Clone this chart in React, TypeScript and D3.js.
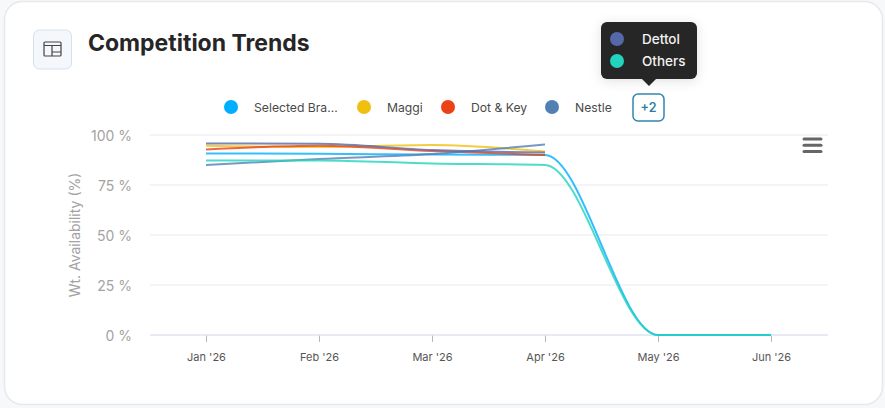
import * as d3 from "d3";
import { useEffect, useRef } from "react";

const months = ["Jan '26", "Feb '26", "Mar '26", "Apr '26", "May '26", "Jun '26"];
const yTicks = [0, 25, 50, 75, 100];

const selectedBrand = [90.8, 90.6, 90.2, 90, 0, 0];
const maggi = [94.6, 94, 95, 91.7];
const dotAndKey = [92.8, 94.6, 92, 90];
const nestle = [85, 88, 90.5, 95.3];
const dettol = [95.8, 95.6, 92.5, 91.2];
const others = [87.3, 87.3, 85.8, 85, 0, 0];

const legendNames = ["Selected Bra...", "Maggi", "Dot & Key", "Nestle"];
const legendColors = ["#00aeff", "#f0bf10", "#ea4116", "#5280b4"];
const legendX = [231, 364, 448, 552];
const tooltipNames = ["Dettol", "Others"];
const tooltipColors = ["#5569a8", "#22d3bd"];

const font = "Inter, 'Noto Sans', sans-serif";

export default function App() {
  const width = 885;
  const height = 408;
  const marginLeft = 150;
  const marginRight = 57;
  const marginTop = 135;
  const marginBottom = 73;

  const ref = useRef<SVGSVGElement | null>(null);

  useEffect((): void => {
    if (!ref.current) return;
    const svg = d3.select(ref.current);
    svg.selectAll("*").remove();

    const defs = svg.append("defs");
    const shadow = defs.append("filter").attr("id", "tipShadow").attr("x", "-30%").attr("y", "-30%").attr("width", "160%").attr("height", "160%");
    shadow.append("feDropShadow").attr("dx", 0).attr("dy", 2).attr("stdDeviation", 6).attr("flood-color", "#000").attr("flood-opacity", 0.12);

    // card
    svg.append("rect").attr("width", width).attr("height", height).attr("fill", "#f7f8fa");
    svg
      .append("rect")
      .attr("x", 4.5)
      .attr("y", 1.5)
      .attr("width", 878)
      .attr("height", 403)
      .attr("rx", 18)
      .attr("fill", "#fff")
      .attr("stroke", "#e6e8ec")
      .attr("stroke-width", 1.5);

    // icon button
    svg
      .append("rect")
      .attr("x", 33.5)
      .attr("y", 30)
      .attr("width", 38)
      .attr("height", 39)
      .attr("rx", 6)
      .attr("fill", "#f4f7fb")
      .attr("stroke", "#d5e1ee");
    const icon = svg.append("g").attr("fill", "none").attr("stroke", "#444").attr("stroke-width", 1.2);
    icon.append("rect").attr("x", 44).attr("y", 42).attr("width", 17).attr("height", 14).attr("rx", 1);
    icon.append("path").attr("d", "M44 45.5H61M52 45.5V56M52 52H61");

    svg
      .append("text")
      .attr("x", 88)
      .attr("y", 51)
      .attr("font-family", font)
      .attr("font-size", 23)
      .attr("font-weight", 700)
      .attr("fill", "#262626")
      .text("Competition Trends");

    const x = d3
      .scalePoint<string>()
      .domain(months)
      .range([206, 771]);
    const y = d3
      .scaleLinear()
      .domain([0, 100])
      .range([height - marginBottom, marginTop]);

    // grid
    svg
      .append("g")
      .selectAll("line")
      .data(yTicks.filter((d) => d > 0))
      .enter()
      .append("line")
      .attr("x1", marginLeft)
      .attr("x2", width - marginRight)
      .attr("y1", (d) => y(d))
      .attr("y2", (d) => y(d))
      .attr("stroke", "#f0f1f4")
      .attr("stroke-width", 1.3);

    // y labels
    svg
      .append("g")
      .selectAll("text")
      .data(yTicks)
      .enter()
      .append("text")
      .attr("x", 132)
      .attr("y", (d) => y(d) + 5.5)
      .attr("text-anchor", "end")
      .attr("font-family", font)
      .attr("font-size", 14)
      .attr("fill", "#a3a3a3")
      .text((d) => `${d} %`);

    svg
      .append("text")
      .attr("transform", `translate(80, ${y(50)}) rotate(-90)`)
      .attr("text-anchor", "middle")
      .attr("font-family", font)
      .attr("font-size", 14)
      .attr("fill", "#a3a3a3")
      .text("Wt. Availability (%)");

    // x axis
    const xAxis = svg
      .append("g")
      .attr("transform", `translate(0, ${height - marginBottom})`)
      .call(d3.axisBottom(x).tickSize(7).tickPadding(11));
    xAxis.select(".domain").remove();
    xAxis.selectAll(".tick line").attr("stroke", "#b5b8c0");
    xAxis
      .selectAll(".tick text")
      .attr("font-family", font)
      .attr("font-size", 11)
      .attr("fill", "#555");
    svg
      .append("line")
      .attr("x1", marginLeft)
      .attr("x2", width - marginRight)
      .attr("y1", y(0))
      .attr("y2", y(0))
      .attr("stroke", "#dfe3f0")
      .attr("stroke-width", 1.3);

    // series
    const line = d3
      .line<number>()
      .x((_, i) => x(months[i]) as number)
      .y((d) => y(d))
      .curve(d3.curveMonotoneX);

    const series = [
      { values: selectedBrand, color: legendColors[0] },
      { values: maggi, color: legendColors[1] },
      { values: dotAndKey, color: legendColors[2] },
      { values: nestle, color: legendColors[3] },
      { values: dettol, color: tooltipColors[0] },
      { values: others, color: tooltipColors[1] },
    ];

    svg
      .append("g")
      .selectAll("path")
      .data(series)
      .enter()
      .append("path")
      .attr("d", (d) => line(d.values))
      .attr("fill", "none")
      .attr("stroke", (d) => d.color)
      .attr("stroke-width", 2)
      .attr("stroke-opacity", 0.8);

    // legend
    const legend = svg
      .append("g")
      .selectAll("g")
      .data(legendNames)
      .enter()
      .append("g")
      .attr("transform", (_, i) => `translate(${legendX[i]}, 107)`);
    legend
      .append("circle")
      .attr("r", 7)
      .attr("fill", (_, i) => legendColors[i]);
    legend
      .append("text")
      .attr("x", 23)
      .attr("y", 4.5)
      .attr("font-family", font)
      .attr("font-size", 12.2)
      .attr("font-weight", 400)
      .attr("fill", "#4a4a4a")
      .text((d) => d);

    // "+2" button
    svg
      .append("rect")
      .attr("x", 633)
      .attr("y", 94)
      .attr("width", 31)
      .attr("height", 27)
      .attr("rx", 5)
      .attr("fill", "#fff")
      .attr("stroke", "#2f86ad")
      .attr("stroke-width", 1.5);
    svg
      .append("text")
      .attr("x", 648.5)
      .attr("y", 112)
      .attr("text-anchor", "middle")
      .attr("font-family", font)
      .attr("font-size", 12.5)
      .attr("font-weight", 600)
      .attr("fill", "#2f7da3")
      .text("+2");

    // tooltip
    const tip = svg.append("g");
    tip
      .append("rect")
      .attr("x", 601)
      .attr("y", 22)
      .attr("width", 96)
      .attr("height", 57)
      .attr("rx", 6)
      .attr("fill", "#262626")
      .attr("filter", "url(#tipShadow)");
    tip.append("path").attr("d", "M642 79L649 86L656 79Z").attr("fill", "#262626");
    const tipRow = tip
      .selectAll("g")
      .data(tooltipNames)
      .enter()
      .append("g")
      .attr("transform", (_, i) => `translate(617, ${39 + i * 22})`);
    tipRow
      .append("circle")
      .attr("r", 7)
      .attr("fill", (_, i) => tooltipColors[i]);
    tipRow
      .append("text")
      .attr("x", 25)
      .attr("y", 5)
      .attr("font-family", font)
      .attr("font-size", 13.5)
      .attr("font-weight", 500)
      .attr("fill", "#f2f2f2")
      .text((d) => d);

    // hamburger menu
    svg
      .append("g")
      .selectAll("line")
      .data([0, 1, 2])
      .enter()
      .append("line")
      .attr("x1", 804)
      .attr("x2", 821)
      .attr("y1", (d) => 139 + d * 6.2)
      .attr("y2", (d) => 139 + d * 6.2)
      .attr("stroke", "#666")
      .attr("stroke-width", 3)
      .attr("stroke-linecap", "round");
  }, []);

  return (
    <svg
      ref={ref}
      width={width}
      height={height}
      viewBox={`0 0 ${width} ${height}`}
      style={{ position: "fixed", left: 0, top: 0, display: "block" }}
    />
  );
}
